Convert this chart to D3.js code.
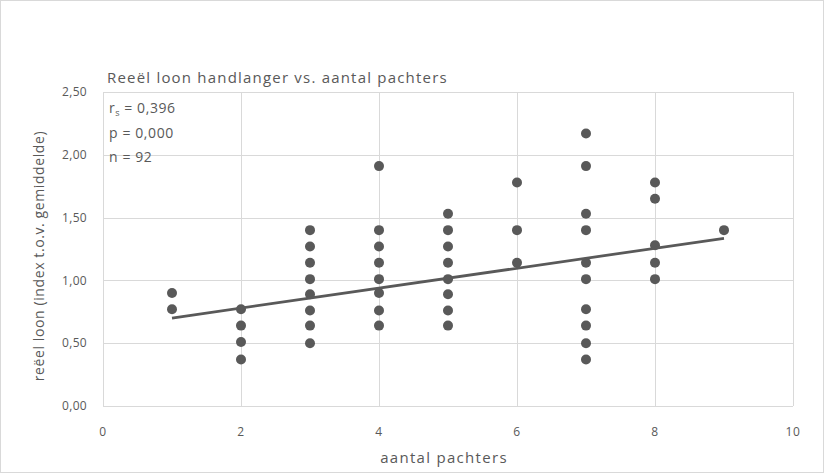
<!DOCTYPE html>
<html lang="nl">
<head>
<meta charset="utf-8">
<title>Reeël loon handlanger</title>
<script src="https://d3js.org/d3.v7.min.js"></script>
<style>
body { margin: 0; background: #fff; }
text { font-family: "Open Sans", sans-serif; fill: #595959; letter-spacing: 0.6px; }
.grid line { stroke: #d9d9d9; stroke-width: 1; }
.dot { fill: #595959; }
</style>
</head>
<body>
<div id="chart"></div>
<script>
// observed points (x = aantal pachters, y = reëel loon index)
var xs = [1,1, 2,2,2,2, 3,3,3,3,3,3,3,3, 4,4,4,4,4,4,4,4, 5,5,5,5,5,5,5,5, 6,6,6, 7,7,7,7,7,7,7,7,7,7, 8,8,8,8,8, 9];
var ys = [0.90,0.77, 0.77,0.64,0.51,0.37,
  1.40,1.27,1.14,1.01,0.89,0.76,0.64,0.50,
  1.91,1.40,1.27,1.14,1.01,0.90,0.76,0.64,
  1.53,1.40,1.27,1.14,1.01,0.89,0.76,0.64,
  1.78,1.40,1.14,
  2.17,1.91,1.53,1.40,1.14,1.01,0.77,0.64,0.50,0.37,
  1.78,1.65,1.28,1.14,1.01,
  1.40];
var trendX = [1, 9];
var trendY = [0.70, 1.335];
var xTicks = [0, 2, 4, 6, 8, 10];
var yTicks = [0, 0.5, 1, 1.5, 2, 2.5];
var statLines = ["= 0,396", "p =  0,000", "n = 92"];

var w = 824, h = 473;
var svg = d3.select("#chart").append("svg").attr("width", w).attr("height", h);

svg.append("rect").attr("x", 0.5).attr("y", 0.5).attr("width", w - 1).attr("height", h - 1)
  .attr("fill", "#fff").attr("stroke", "#d9d9d9");

var x = d3.scaleLinear().domain([0, 10]).range([103, 793]);
var y = d3.scaleLinear().domain([0, 2.5]).range([406, 92]);
var fmt = function(v) { return d3.format(".2f")(v).replace(".", ","); };

var grid = svg.append("g").attr("class", "grid");
grid.selectAll(".gy").data(yTicks).enter().append("line")
  .attr("x1", x(0)).attr("x2", x(10))
  .attr("y1", function(d) { return Math.round(y(d)) + 0.5; })
  .attr("y2", function(d) { return Math.round(y(d)) + 0.5; });
grid.selectAll(".gx").data(xTicks).enter().append("line")
  .attr("y1", y(0)).attr("y2", y(2.5))
  .attr("x1", function(d) { return Math.round(x(d)) + 0.5; })
  .attr("x2", function(d) { return Math.round(x(d)) + 0.5; });

// tick labels
svg.append("g").selectAll("text").data(yTicks).enter().append("text")
  .attr("x", 87).attr("y", function(d) { return y(d); }).attr("dy", "0.35em")
  .attr("text-anchor", "end").style("font-size", "12px").style("letter-spacing", "0.3px").text(fmt);
svg.append("g").selectAll("text").data(xTicks).enter().append("text")
  .attr("x", function(d) { return x(d); }).attr("y", 436)
  .attr("text-anchor", "middle").style("font-size", "12px").text(function(d) { return d; });

// points
svg.append("g").selectAll("circle").data(xs).enter().append("circle")
  .attr("class", "dot").attr("r", 5)
  .attr("cx", function(d) { return x(d); })
  .attr("cy", function(d, i) { return y(ys[i]); });

// trend line
svg.append("line")
  .attr("x1", x(trendX[0])).attr("y1", y(trendY[0]))
  .attr("x2", x(trendX[1])).attr("y2", y(trendY[1]))
  .attr("stroke", "#595959").attr("stroke-width", 2.75);

// titles
svg.append("text").attr("x", 107).attr("y", 83).style("font-size", "15px")
  .style("letter-spacing", "1.2px")
  .text("Reeël loon handlanger vs. aantal pachters");
svg.append("text").attr("x", 444).attr("y", 463).attr("text-anchor", "middle")
  .style("font-size", "15px").style("letter-spacing", "1.3px").text("aantal pachters");
svg.append("text").attr("transform", "translate(44,256) rotate(-90)")
  .attr("text-anchor", "middle").style("font-size", "14px")
  .text("reëel loon (index t.o.v. gemiddelde)");

// stats
var st = svg.append("g").style("font-size", "14px").style("white-space", "pre");
var r = st.append("text").attr("x", 109).attr("y", 113);
r.append("tspan").text("r");
r.append("tspan").attr("dy", 3).style("font-size", "9px").text("s");
r.append("tspan").attr("dy", -3).attr("dx", 4).text(statLines[0]);
st.append("text").attr("x", 109).attr("y", 138).text(statLines[1]);
st.append("text").attr("x", 109).attr("y", 162).text(statLines[2]);
</script>
</body>
</html>
